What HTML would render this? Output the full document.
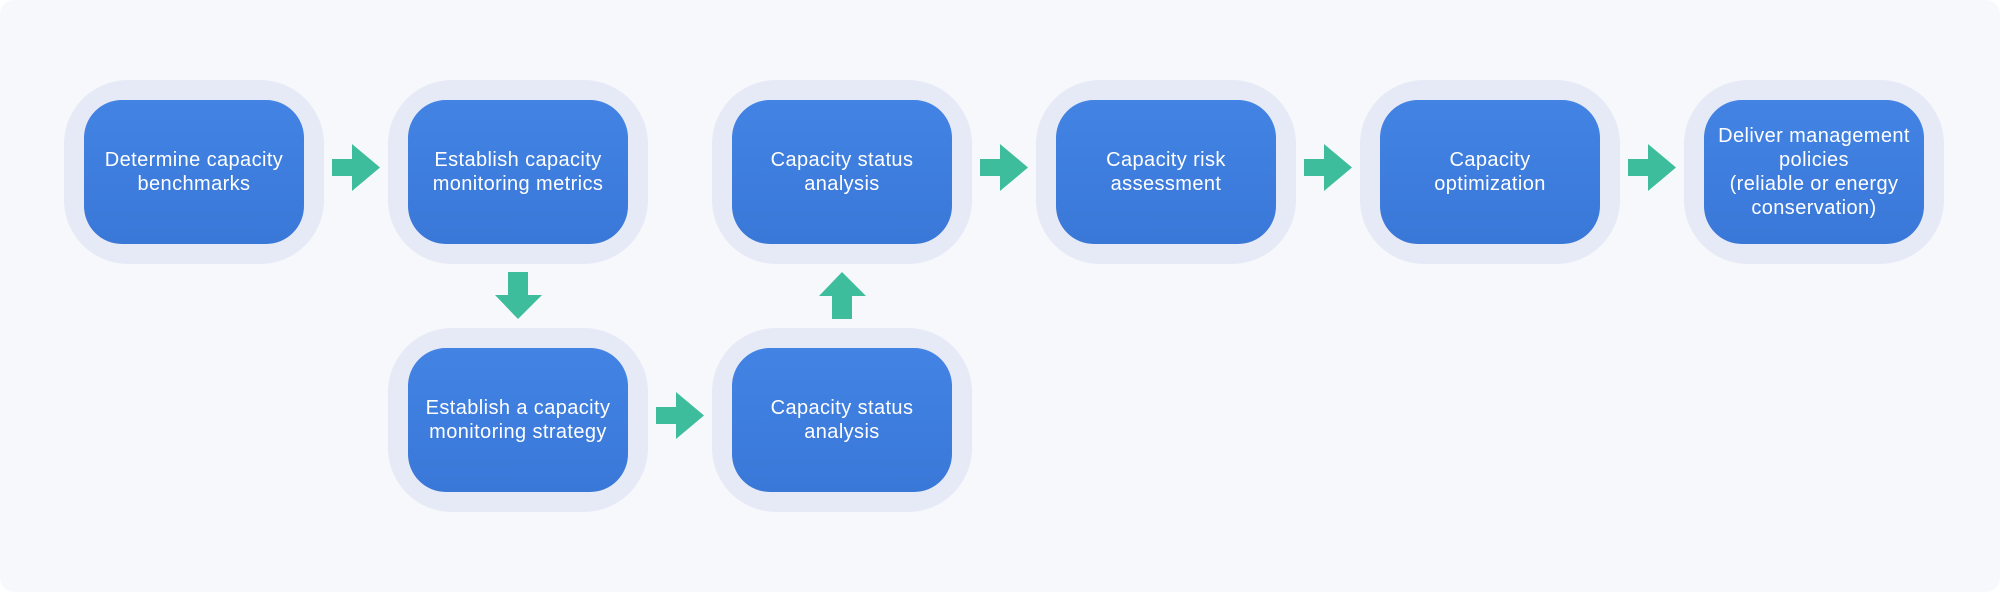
<!DOCTYPE html>
<html><head><meta charset="utf-8"><style>
html,body{margin:0;padding:0;width:2000px;height:592px;background:#fff;overflow:hidden}
.panel{position:absolute;left:0;top:0;width:2000px;height:592px;background:#f7f8fc;border-radius:14px}
.o{position:absolute;width:260px;height:184px;background:#e6eaf6;border-radius:64px}
.i{position:absolute;left:20px;top:20px;width:220px;height:144px;border-radius:38px;background:linear-gradient(#4283e4,#3a78d8);display:flex;align-items:center;justify-content:center;text-align:center;color:#fff;font-family:"Liberation Sans",sans-serif;font-size:20px;letter-spacing:0.4px;line-height:24px}
svg{position:absolute;left:0;top:0}
</style></head><body>
<div class="panel"></div>
<div class="o" style="left:64px;top:80px"><div class="i">Determine capacity<br>benchmarks</div></div>
<div class="o" style="left:388px;top:80px"><div class="i">Establish capacity<br>monitoring metrics</div></div>
<div class="o" style="left:712px;top:80px"><div class="i">Capacity status<br>analysis</div></div>
<div class="o" style="left:1036px;top:80px"><div class="i">Capacity risk<br>assessment</div></div>
<div class="o" style="left:1360px;top:80px"><div class="i">Capacity<br>optimization</div></div>
<div class="o" style="left:1684px;top:80px"><div class="i">Deliver management<br>policies<br>(reliable or energy<br>conservation)</div></div>
<div class="o" style="left:388px;top:328px"><div class="i">Establish a capacity<br>monitoring strategy</div></div>
<div class="o" style="left:712px;top:328px"><div class="i">Capacity status<br>analysis</div></div>
<svg width="2000" height="592" fill="#3dbd9c">
<polygon points="332,159 352,159 352,144 380,167.5 352,191 352,176 332,176"/>
<polygon points="980,159 1000,159 1000,144 1028,167.5 1000,191 1000,176 980,176"/>
<polygon points="1304,159 1324,159 1324,144 1352,167.5 1324,191 1324,176 1304,176"/>
<polygon points="1628,159 1648,159 1648,144 1676,167.5 1648,191 1648,176 1628,176"/>
<polygon points="656,407 676,407 676,392 704,415.5 676,439 676,424 656,424"/>
<polygon points="508,272 528,272 528,295 542,295 518,319 495,295 508,295"/>
<polygon points="832,319 852,319 852,296 866,296 842,272 819,296 832,296"/>
</svg>
</body></html>
